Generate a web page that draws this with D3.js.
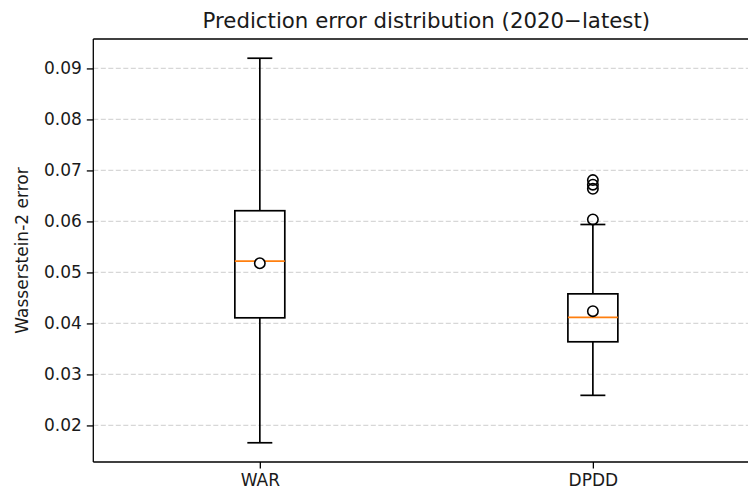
<!DOCTYPE html>
<html>
<head>
<meta charset="utf-8">
<script src="https://cdn.jsdelivr.net/npm/d3@7"></script>
<style>
  html, body { margin: 0; padding: 0; background: #fff; overflow: hidden; }
  svg { display: block; }
  text { font-family: "DejaVu Sans", sans-serif; fill: #1a1a1a; }
</style>
</head>
<body>
<div id="chart"></div>
<script>
// ---- data ----
const categories   = ["WAR", "DPDD"];
const whiskerLow   = [0.0166, 0.0259];
const q1Values     = [0.0411, 0.0364];
const medianValues = [0.0522, 0.0412];
const q3Values     = [0.0621, 0.0458];
const whiskerHigh  = [0.0920, 0.0594];
const meanValues   = [0.0518, 0.0424];
const outliers     = [[], [0.0604, 0.0664, 0.0672, 0.0681]];
const yTicks       = [0.02, 0.03, 0.04, 0.05, 0.06, 0.07, 0.08, 0.09];
const titleText    = "Prediction error distribution (2020\u2212latest)";
const yLabelText   = "Wasserstein-2 error";

// ---- layout ----
const W = 748, H = 495;
const mLeft = 93.3, mRight = 759.4, mTop = 39, mBottom = 462;

const svg = d3.select("#chart").append("svg").attr("width", W).attr("height", H);

const x = d3.scaleLinear().domain([0.5, categories.length + 0.5]).range([mLeft, mRight]);
const allVals = whiskerLow.concat(whiskerHigh, outliers.flat());
const lo = d3.min(allVals), hi = d3.max(allVals), pad = (hi - lo) * 0.05;
const y = d3.scaleLinear().domain([lo - pad, hi + pad]).range([mBottom, mTop]);

// grid
svg.append("g").selectAll("line").data(yTicks).join("line")
  .attr("x1", mLeft).attr("x2", W)
  .attr("y1", d => y(d)).attr("y2", d => y(d))
  .attr("stroke", "#b0b0b0").attr("stroke-opacity", 0.5)
  .attr("stroke-width", 1.3).attr("stroke-dasharray", "5,2.5");

// boxes
const boxW = 0.15;
const data = categories.map((c, i) => ({
  c, pos: i + 1, lo: whiskerLow[i], q1: q1Values[i], med: medianValues[i],
  q3: q3Values[i], hi: whiskerHigh[i], mean: meanValues[i], out: outliers[i]
}));

const g = svg.append("g");
data.forEach(d => {
  const cx = x(d.pos);
  const hw = x(d.pos + boxW / 2) - cx;
  const cw = hw / 2;
  const bx = g.append("g").attr("fill", "none").attr("stroke", "#000").attr("stroke-width", 1.7);
  bx.append("line").attr("x1", cx).attr("x2", cx).attr("y1", y(d.q3)).attr("y2", y(d.hi));
  bx.append("line").attr("x1", cx).attr("x2", cx).attr("y1", y(d.q1)).attr("y2", y(d.lo));
  bx.append("line").attr("x1", cx - cw).attr("x2", cx + cw).attr("y1", y(d.hi)).attr("y2", y(d.hi));
  bx.append("line").attr("x1", cx - cw).attr("x2", cx + cw).attr("y1", y(d.lo)).attr("y2", y(d.lo));
  bx.append("rect").attr("x", cx - hw).attr("y", y(d.q3))
    .attr("width", 2 * hw).attr("height", y(d.q1) - y(d.q3));
  g.append("line").attr("x1", cx - hw).attr("x2", cx + hw)
    .attr("y1", y(d.med)).attr("y2", y(d.med))
    .attr("stroke", "#ff7f0e").attr("stroke-width", 1.7);
  g.append("circle").attr("cx", cx).attr("cy", y(d.mean)).attr("r", 5.2)
    .attr("fill", "#fff").attr("stroke", "#000").attr("stroke-width", 1.6);
  g.selectAll(null).data(d.out).join("circle")
    .attr("cx", cx).attr("cy", v => y(v)).attr("r", 5.2)
    .attr("fill", "none").attr("stroke", "#000").attr("stroke-width", 1.6);
});

// axes
const yAxis = svg.append("g").attr("transform", `translate(${mLeft},0)`)
  .call(d3.axisLeft(y).tickValues(yTicks).tickFormat(d3.format(".2f")).tickSizeOuter(0).tickSize(6.5).tickPadding(5));
const xAxis = svg.append("g").attr("transform", `translate(0,${mBottom})`)
  .call(d3.axisBottom(x).tickValues(data.map(d => d.pos)).tickFormat((d, i) => categories[i]).tickSizeOuter(0).tickSize(6.5).tickPadding(5));
[yAxis, xAxis].forEach(a => {
  a.select(".domain").remove();
  a.selectAll(".tick line").attr("stroke", "#000").attr("stroke-width", 1.3);
  a.selectAll(".tick text").attr("font-size", 17).attr("fill", "#1a1a1a")
    .style("font-family", "DejaVu Sans, sans-serif");
});

// spines (right spine lies beyond the visible area)
const spines = svg.append("g").attr("stroke", "#000").attr("stroke-width", 1.3);
spines.append("line").attr("x1", mLeft).attr("x2", mLeft).attr("y1", mTop).attr("y2", mBottom);
spines.append("line").attr("x1", mLeft).attr("x2", W).attr("y1", mTop).attr("y2", mTop);
spines.append("line").attr("x1", mLeft).attr("x2", W).attr("y1", mBottom).attr("y2", mBottom);

// title
svg.append("text").attr("x", (mLeft + mRight) / 2).attr("y", 28)
  .attr("text-anchor", "middle").attr("font-size", 21.3).text(titleText);

// y label
svg.append("text").attr("transform", `translate(28,${(mTop + mBottom) / 2}) rotate(-90)`)
  .attr("text-anchor", "middle").attr("font-size", 17).text(yLabelText);
</script>
</body>
</html>
